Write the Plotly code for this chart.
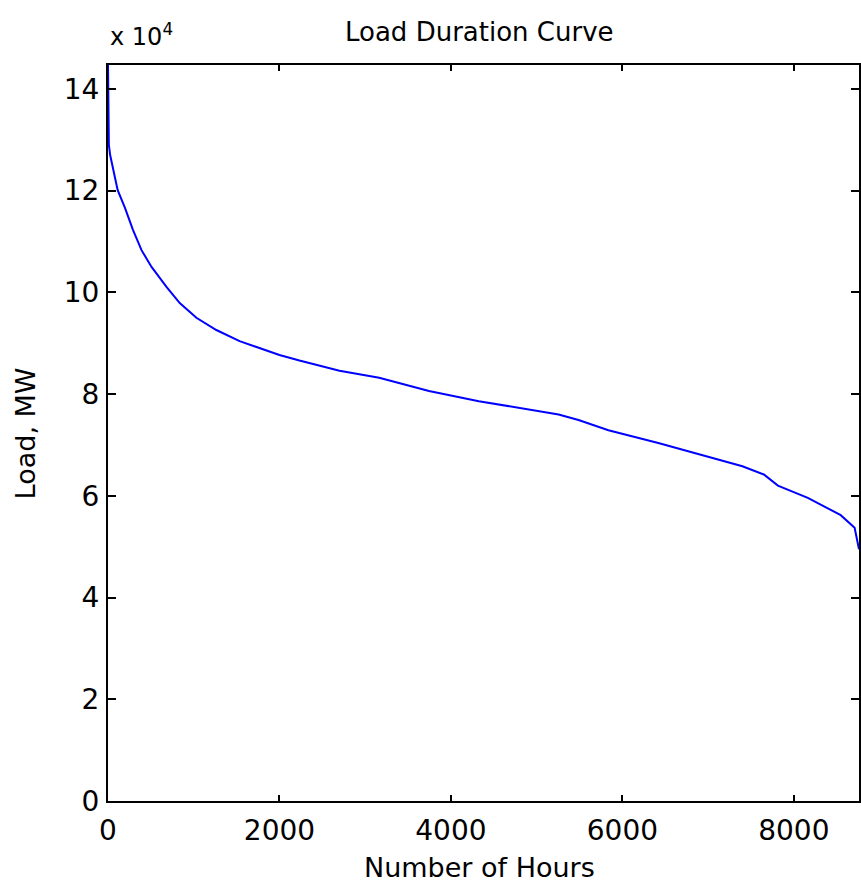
import plotly.graph_objects as go

# Data (hours vs load in MW)
hours = [0, 2, 10, 25, 62, 113, 198, 291, 391, 508, 682, 837, 1031, 1264, 1535,
         1845, 2000, 2233, 2700, 3163, 3744, 4326, 4907, 5256, 5488, 5837, 6419,
         7000, 7400, 7650, 7814, 8163, 8547, 8709, 8744, 8760]
load_mw = [144700, 135000, 129000, 127000, 124100, 120100, 116600, 112300, 108300,
           105000, 101100, 97900, 95000, 92600, 90400, 88600, 87700, 86600, 84600,
           83200, 80600, 78600, 77000, 76000, 74900, 72900, 70400, 67700, 65800,
           64200, 62000, 59600, 56200, 53700, 50500, 49500]

y_tick_vals = [0, 20000, 40000, 60000, 80000, 100000, 120000, 140000]
y_tick_text = ["0", "2", "4", "6", "8", "10", "12", "14"]
x_tick_vals = [0, 2000, 4000, 6000, 8000]
x_tick_text = ["0", "2000", "4000", "6000", "8000"]

FONT = "DejaVu Sans"

fig = go.Figure()
fig.add_trace(go.Scatter(x=hours, y=load_mw, mode="lines",
                         line=dict(color="#0000ff", width=2), showlegend=False))

axis_common = dict(showline=True, linecolor="black", linewidth=2, mirror="ticks",
                   ticks="inside", tickcolor="black", tickwidth=2,
                   showgrid=False, zeroline=False,
                   tickfont=dict(family=FONT, size=28, color="black"))

fig.update_xaxes(range=[0, 8760], tickvals=x_tick_vals, ticktext=x_tick_text,
                 ticklen=6, ticklabelstandoff=3, **axis_common)
fig.update_yaxes(range=[0, 144700], tickvals=y_tick_vals, ticktext=y_tick_text,
                 ticklen=8, ticklabelstandoff=1, **axis_common)

fig.update_layout(
    width=861, height=884,
    margin=dict(l=108, r=0, t=65, b=83),
    paper_bgcolor="white", plot_bgcolor="white",
    annotations=[
        dict(text="Load Duration Curve", xref="paper", yref="paper", x=0.495, y=1.0448,
             xanchor="center", yanchor="middle", showarrow=False,
             font=dict(family=FONT, size=26, color="black")),
        dict(text="x 10<sup>4</sup>", xref="paper", yref="paper", x=0.0, y=1.0164,
             xanchor="left", yanchor="bottom", showarrow=False,
             font=dict(family=FONT, size=24, color="black")),
        dict(text="Number of Hours", xref="paper", yref="paper", x=0.495, y=-0.0897,
             xanchor="center", yanchor="middle", showarrow=False,
             font=dict(family=FONT, size=27, color="black")),
        dict(text="Load, MW", xref="paper", yref="paper", x=-0.110, y=0.5,
             xanchor="center", yanchor="middle", textangle=-90, showarrow=False,
             font=dict(family=FONT, size=27, color="black")),
    ],
)

fig.write_html("out.html")
